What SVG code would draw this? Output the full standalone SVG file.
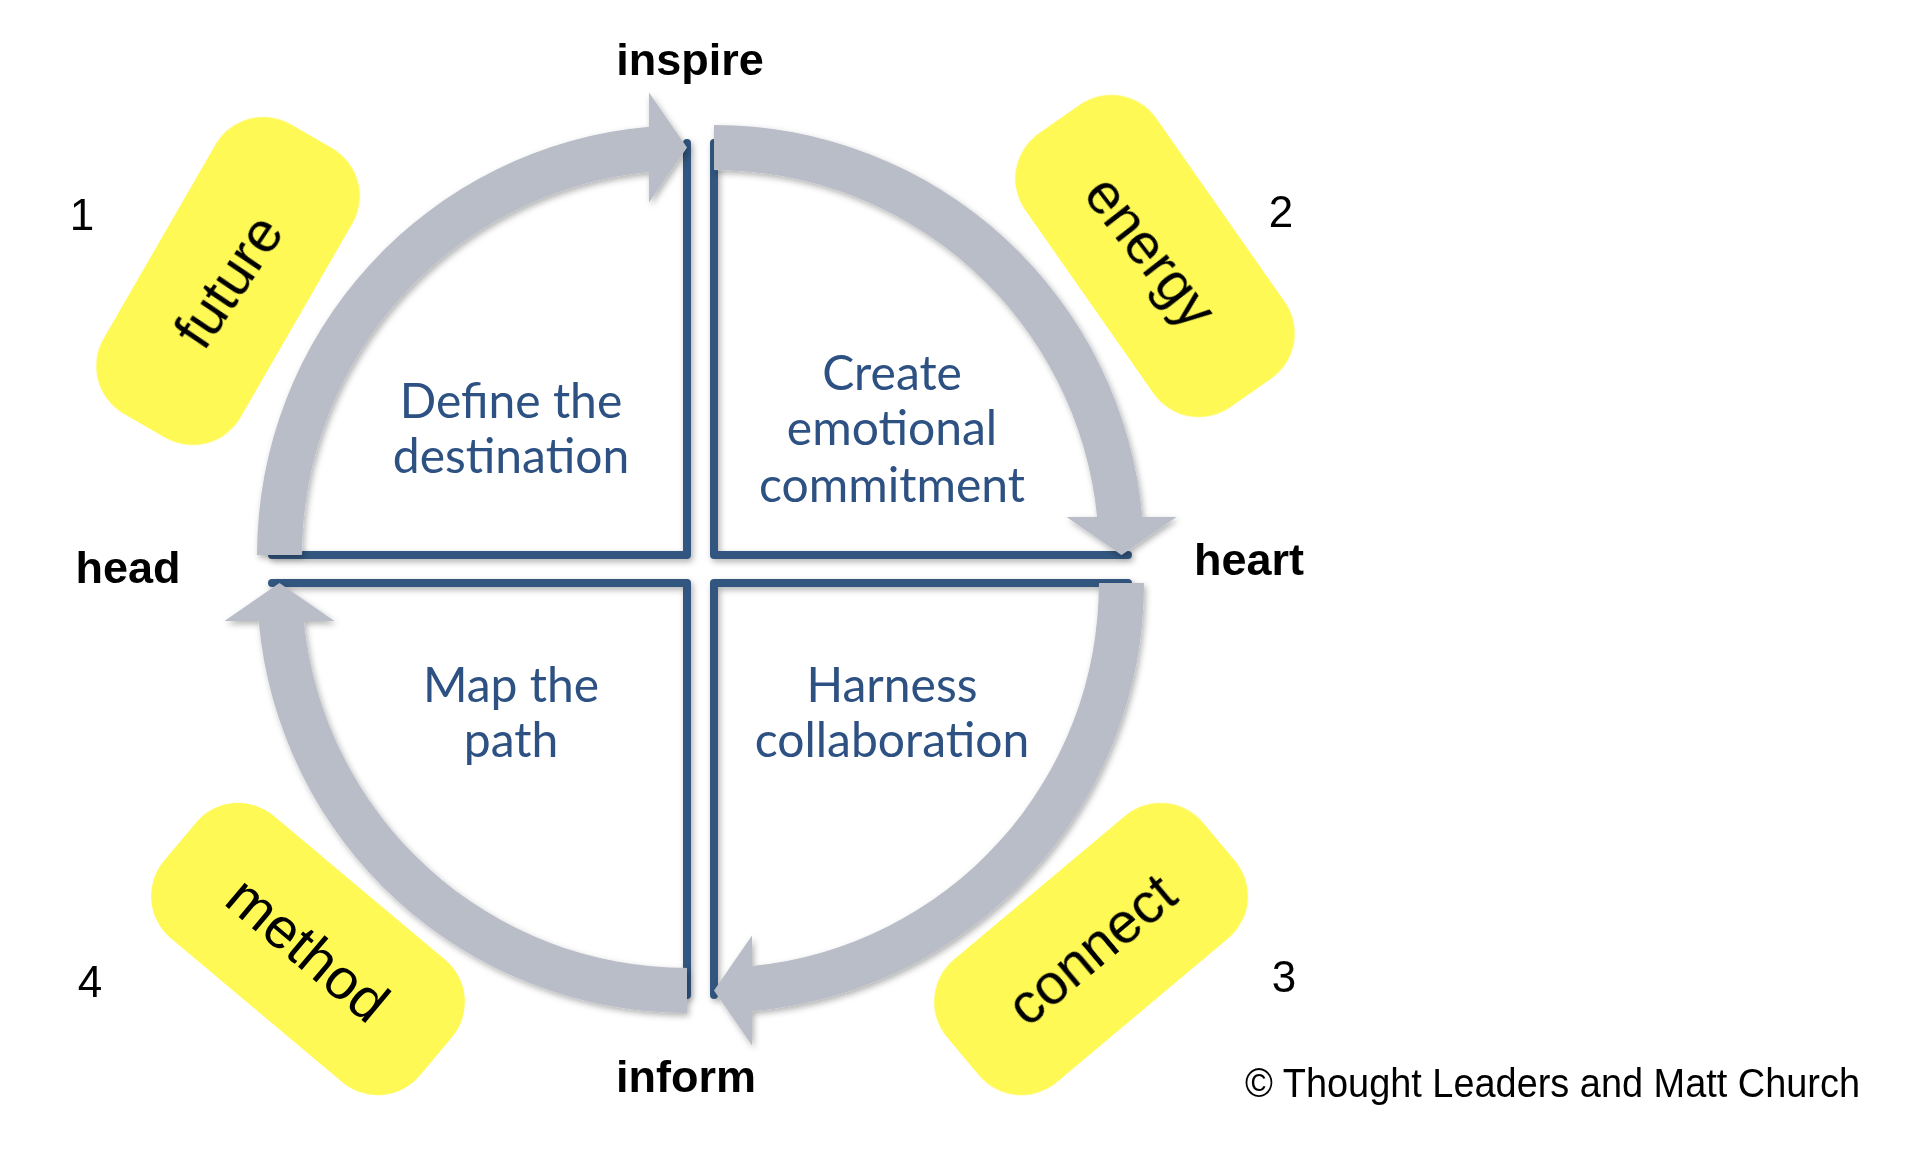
<svg xmlns="http://www.w3.org/2000/svg" width="1920" height="1159" viewBox="0 0 1920 1159">
<style>
.box{fill:none;stroke:#30567f;stroke-width:8;stroke-linejoin:round;stroke-linecap:round}
.arrow{fill:#b9bdc8}
.blob{fill:#fff955}
.blobtxt{font-family:"Liberation Sans",Arial,sans-serif;font-size:57px;fill:#000;text-anchor:middle}
.lbl{font-family:"Liberation Sans",Arial,sans-serif;font-size:45px;font-weight:bold;fill:#000;text-anchor:middle}
.num{font-family:"Liberation Sans",Arial,sans-serif;font-size:44px;fill:#000;text-anchor:middle}
.qtxt{font-family:Lato,"Open Sans",sans-serif;font-size:48px;fill:#2d5182;text-anchor:middle}
.copy{font-family:"Liberation Sans",Arial,sans-serif;font-size:40px;fill:#000}
</style>
<defs>
<filter id="sh" x="-10%" y="-10%" width="130%" height="130%">
<feDropShadow dx="2" dy="3" stdDeviation="3" flood-color="#000" flood-opacity="0.3"/>
</filter>
<path id="arr" d="M0,-430 A430,430 0 0 1 428.3,-38 L462.5,-38 L407.5,0 L352.5,-38 L383.1,-38 A385,385 0 0 0 0,-385 Z"/>
</defs>
<rect width="1920" height="1159" fill="#fff"/>

<g id="quadrant-define" filter="url(#sh)">
<path class="box" d="M272,555 L687,555 L687,143"/>
</g>
<g id="quadrant-create" filter="url(#sh)">
<path class="box" d="M714,143 L714,555 L1128,555"/>
</g>
<g id="quadrant-harness" filter="url(#sh)">
<path class="box" d="M714,995 L714,583 L1128,583"/>
</g>
<g id="quadrant-map" filter="url(#sh)">
<path class="box" d="M272,583 L687,583 L687,995"/>
</g>

<g id="connectors" filter="url(#sh)">
<use href="#arr" class="arrow" transform="translate(687,555) rotate(270)"/>
<use href="#arr" class="arrow" transform="translate(714,555)"/>
<use href="#arr" class="arrow" transform="translate(714,583) rotate(90)"/>
<use href="#arr" class="arrow" transform="translate(687,583) rotate(180)"/>
</g>

<g id="quadrant-text">
<text class="qtxt" x="511" y="418">Define the</text>
<text class="qtxt" x="511" y="473">destination</text>
<text class="qtxt" x="892" y="390">Create</text>
<text class="qtxt" x="892" y="445">emotional</text>
<text class="qtxt" x="892" y="502">commitment</text>
<text class="qtxt" x="511" y="702">Map the</text>
<text class="qtxt" x="511" y="757">path</text>
<text class="qtxt" x="892" y="702">Harness</text>
<text class="qtxt" x="892" y="757">collaboration</text>
</g>

<g id="tag-future" transform="translate(228,281) rotate(-60)">
<rect class="blob" x="-167" y="-79" width="334" height="158" rx="55"/>
<text class="blobtxt" x="0" y="20" transform="rotate(4)">future</text>
</g>
<g id="tag-energy" transform="translate(1155,256) rotate(55)">
<rect class="blob" x="-167" y="-80" width="334" height="160" rx="55"/>
<text class="blobtxt" x="-6" y="20" transform="rotate(-3)">energy</text>
</g>
<g id="tag-connect" transform="translate(1091,949) rotate(-40)">
<rect class="blob" x="-167" y="-80" width="334" height="160" rx="55"/>
<text class="blobtxt" x="0" y="20">connect</text>
</g>
<g id="tag-method" transform="translate(308,949) rotate(40)">
<rect class="blob" x="-167" y="-80" width="334" height="160" rx="55"/>
<text class="blobtxt" x="0" y="20">method</text>
</g>

<g id="labels">
<text class="lbl" x="690" y="75">inspire</text>
<text class="lbl" x="128" y="583">head</text>
<text class="lbl" x="1249" y="575">heart</text>
<text class="lbl" x="686" y="1092">inform</text>
</g>
<g id="numbers">
<text class="num" x="82" y="230">1</text>
<text class="num" x="1281" y="227">2</text>
<text class="num" x="1284" y="992">3</text>
<text class="num" x="90" y="997">4</text>
</g>
<text class="copy" x="1245" y="1097" textLength="615" lengthAdjust="spacingAndGlyphs">© Thought Leaders and Matt Church</text>
</svg>
